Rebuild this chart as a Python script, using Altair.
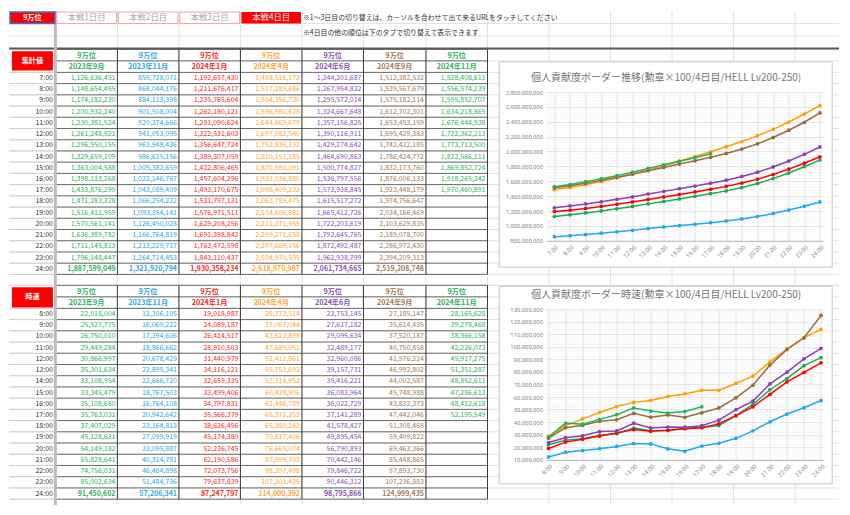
import altair as alt
import pandas as pd

# ---------------- data ----------------
rank = "9万位"
series = ["2023年9月", "2023年11月", "2024年1月", "2024年4月", "2024年6月", "2024年9月", "2024年11月"]
cum_hours = list(range(7, 25))
rate_hours = list(range(8, 25))

cum_2023_09 = [1126636451, 1148654455, 1174182230, 1200932240, 1230381524, 1261248521, 1296550155, 1329659109, 1363004588,
               1398113268, 1433876299, 1471283328, 1516411959, 1570561141, 1636389782, 1711145813, 1796148447, 1887599049]
cum_2023_11 = [855738071, 868044176, 884113398, 901508004, 920374666, 941053095, 963948436, 986615156, 1005382659,
               1022146767, 1043089409, 1066254222, 1093354141, 1126450028, 1166764819, 1213229717, 1264714453, 1321920794]
cum_2024_01 = [1192657430, 1211676417, 1235765604, 1262180121, 1291090624, 1322531603, 1356647724, 1389307059, 1422806465,
               1457604296, 1493170675, 1531797131, 1576971511, 1629208256, 1691398842, 1763472598, 1843110437, 1930358234]
cum_2024_04 = [1488516172, 1517289686, 1554356730, 1596980628, 1644669679, 1697082540, 1752836232, 1810151185, 1870590091,
               1933036880, 1998409233, 2063789475, 2134606881, 2211271955, 2299271658, 2397669156, 2504970595, 2618970987]
cum_2024_06 = [1244201687, 1267954832, 1295572014, 1324667648, 1357156825, 1390116911, 1429274642, 1464690863, 1500774827,
               1536797556, 1573938845, 1615517272, 1665412726, 1722203619, 1792645765, 1872492487, 1962938799, 2061734665]
cum_2024_09 = [1512382532, 1539567679, 1575182114, 1612702301, 1653453159, 1695429383, 1742422185, 1786424772, 1832173760,
               1876006133, 1923448179, 1974756647, 2034166469, 2103629835, 2189078700, 2286972430, 2394209313, 2519208748]
cum_2024_11 = [1528408611, 1556574239, 1595852707, 1634218865, 1676444938, 1722362213, 1773713500, 1822566111, 1869852724,
               1918265342, 1970460891]

rate_2023_09 = [22018004, 25527775, 26750010, 29449284, 30866997, 35301634, 33108954, 33345479, 35108680,
                35763031, 37407029, 45128631, 54149182, 65828641, 74756031, 85002634, 91450602]
rate_2023_11 = [12306105, 16069222, 17394606, 18866662, 20678429, 22895341, 22666720, 18767503, 16764108,
                20942642, 23164813, 27099919, 33095887, 40314791, 46464898, 51484736, 57206341]
rate_2024_01 = [19018987, 24089187, 26414517, 28910503, 31440979, 34116121, 32659335, 33499406, 34797831,
                35566379, 38626456, 45174380, 52236745, 62190586, 72073756, 79637839, 87247797]
rate_2024_04 = [28773514, 37067044, 42623898, 47689051, 52412861, 55753692, 57314953, 60438906, 62446789,
                65372353, 65380242, 70817406, 76665074, 87999703, 98397498, 107301439, 114000392]
rate_2024_06 = [23753145, 27617182, 29095634, 32489177, 32960086, 39157731, 35416221, 36083964, 36022729,
                37141289, 41578427, 49895454, 56790893, 70442146, 79846722, 90446312, 98795866]
rate_2024_09 = [27185147, 35614435, 37520187, 40750858, 41976224, 46992802, 44002587, 45748988, 43832373,
                47442046, 51308468, 59409822, 69463366, 85448865, 97893730, 107236883, 124999435]
rate_2024_11 = [28165628, 39278468, 38366158, 42226073, 45917275, 51351287, 48852611, 47286613, 48412618,
                52195549]

cum_data = [cum_2023_09, cum_2023_11, cum_2024_01, cum_2024_04, cum_2024_06, cum_2024_09, cum_2024_11]
rate_data = [rate_2023_09, rate_2023_11, rate_2024_01, rate_2024_04, rate_2024_06, rate_2024_09, rate_2024_11]

tab_labels = ["本戦1日目", "本戦2日目", "本戦3日目", "本戦4日目"]
note_1 = "※1～3日目の切り替えは、カーソルを合わせて出て来るURLをタッチしてください"
note_2 = "※4日目の他の順位は下のタブで切り替えて表示できます"
label_cum = "集計値"
label_rate = "時速"
title_1 = "個人貢献度ボーダー推移(勲章×100/4日目/HELL Lv200-250)"
title_2 = "個人貢献度ボーダー時速(勲章×100/4日目/HELL Lv200-250)"

# ---------------- styles ----------------
text_colors = ["#2db25c", "#27a9e1", "#ff2424", "#ffa630", "#8c4fb8", "#a47a52", "#2db25c"]
line_colors = ["#1aab4f", "#1eaaf1", "#ff0000", "#ffa000", "#8a3fb8", "#9c6a3c", "#22b35e"]
FONT = "Noto Sans CJK JP"
AXFONT = "Roboto"

# ---------------- layout (reference pixel grid, scaled) ----------------
W, H = 830, 494
KX, KY = W / 850, H / 515


def X(v):
    return round(v * KX, 2)


def Y(v):
    return round(v * KY, 2)


col_edges = [0, 48, 111, 174, 237, 300, 363, 427, 490]
sheet_cols_right = [553, 616, 679, 742, 805]
ROW = 11.7
t1_hdr = [40, 52, 64]
t2_hdr = [286, 298, 310]
t1_edges = t1_hdr[:2] + [64 + k * ROW for k in range(len(cum_hours) + 1)]
t2_edges = t2_hdr[:2] + [310 + k * ROW for k in range(len(rate_hours) + 1)]
t1_bottom = t1_edges[-1]
t2_bottom = t2_edges[-1]

SX = alt.Scale(domain=[0, X(490)], range=[0, X(490)], nice=False, zero=False)
SY = alt.Scale(domain=[0, H], range=[0, H], nice=False, zero=False)
WL = X(490)


def enc_pos(extra2=True):
    return dict(x=alt.X("x:Q", scale=SX, axis=None), y=alt.Y("y:Q", scale=SY, axis=None))


def rules(recs, color, width):
    df = pd.DataFrame(recs)
    return alt.Chart(df).mark_rule(color=color, strokeWidth=width).encode(
        x=alt.X("x:Q", scale=SX, axis=None), x2="x2:Q",
        y=alt.Y("y:Q", scale=SY, axis=None), y2="y2:Q")


def rects(recs, **mk):
    df = pd.DataFrame(recs)
    return alt.Chart(df).mark_rect(**mk).encode(
        x=alt.X("x:Q", scale=SX, axis=None), x2="x2:Q",
        y=alt.Y("y:Q", scale=SY, axis=None), y2="y2:Q",
        color=alt.Color("c:N", scale=None))


def texts(recs, **mk):
    df = pd.DataFrame(recs)
    return alt.Chart(df).mark_text(font=FONT, baseline="middle", **mk).encode(
        x=alt.X("x:Q", scale=SX, axis=None), y=alt.Y("y:Q", scale=SY, axis=None),
        text="t:N", color=alt.Color("c:N", scale=None))


def hline(y, x0, x1):
    return dict(x=X(x0), x2=X(x1), y=Y(y), y2=Y(y))


def vline(x, y0, y1):
    return dict(x=X(x), x2=X(x), y=Y(y0), y2=Y(y1))


layers = []

# light spreadsheet grid
bg_rows = [13, 26] + t1_edges + [t1_bottom + 11.4] + t2_edges
light = [hline(y, 0, 850) for y in bg_rows]
light += [vline(x, 0, 515) for x in col_edges[1:] + sheet_cols_right]
layers.append(rules(light, "#e2e2e2", 1))

# chart panels (white, bordered)
panels = [dict(x=X(502), x2=X(843), y=Y(53), y2=Y(267), c="#ffffff"),
          dict(x=X(502), x2=X(843), y=Y(287), y2=Y(493), c="#ffffff")]
layers.append(rects(panels, stroke="#c4c4c4", strokeWidth=1))

# table grids
dark_h, time_h, dark_v = [], [], []
for edges, bottom in [(t1_edges, t1_bottom), (t2_edges, t2_bottom)]:
    for y in edges:
        dark_h.append(hline(y, 48, 490))
    for y in edges[2:]:
        time_h.append(hline(y, 0, 48))
    for x in col_edges[2:]:
        dark_v.append(vline(x, edges[0], bottom))
layers.append(rules(time_h, "#cfcfcf", 1))
layers.append(rules(dark_h, "#6a6a6a", 1))
layers.append(rules(dark_v, "#3a3a3a", 1))

# frozen pane lines
layers.append(rules([hline(39, 0, 850)], "#5a5a5a", 2))
layers.append(rules([vline(47.5, 0, 515)], "#bdbdbd", 3))

# top tabs
layers.append(rects([dict(x=X(1), x2=X(47), y=Y(1), y2=Y(13), c="#ff0000")], stroke="#3c6fd6", strokeWidth=1.5))
tab_x = [(49, 110), (112, 173), (175, 236)]
layers.append(rects([dict(x=X(a), x2=X(b), y=Y(1), y2=Y(13), c="#ffffff") for a, b in tab_x],
                    stroke="#f3a5a5", strokeWidth=1))
layers.append(rects([dict(x=X(238), x2=X(299), y=Y(1), y2=Y(13), c="#ff0000")]))

# red label boxes
layers.append(rects([dict(x=X(3), x2=X(45), y=Y(42), y2=Y(62), c="#ff0000"),
                     dict(x=X(3), x2=X(45), y=Y(288), y2=Y(309), c="#ff0000")]))

# texts
txt_bold_center, txt_center, txt_right, txt_right_bold, txt_left = [], [], [], [], []
txt_bold_center.append(dict(x=X(24), y=Y(7), t=rank, c="#ffffff"))
for k, lab in enumerate(tab_labels):
    cx = (col_edges[k + 1] + col_edges[k + 2]) / 2
    txt_center.append(dict(x=X(cx), y=Y(7), t=lab, c="#ffffff" if k == 3 else "#a9a9a9"))
txt_left.append(dict(x=X(301), y=Y(7), t=note_1, c="#333333"))
txt_left.append(dict(x=X(301), y=Y(22.5), t=note_2, c="#333333"))

for label, hours, data, hdr, y0 in [(label_cum, cum_hours, cum_data, t1_hdr, 64),
                                     (label_rate, rate_hours, rate_data, t2_hdr, 310)]:
    txt_bold_center.append(dict(x=X(24), y=Y((hdr[0] + hdr[2]) / 2), t=label, c="#ffffff"))
    for i, s in enumerate(series):
        cx = (col_edges[i + 1] + col_edges[i + 2]) / 2
        txt_bold_center.append(dict(x=X(cx), y=Y((hdr[0] + hdr[1]) / 2 + 0.5), t=rank, c=text_colors[i]))
        txt_bold_center.append(dict(x=X(cx), y=Y((hdr[1] + hdr[2]) / 2 + 0.5), t=s, c=text_colors[i]))
    last = len(hours) - 1
    for r, h in enumerate(hours):
        cy = y0 + (r + 0.5) * ROW
        txt_right.append(dict(x=X(45), y=Y(cy), t=f"{h}:00", c="#333333"))
        for i, vals in enumerate(data):
            if r < len(vals):
                rec = dict(x=X(col_edges[i + 2] - 2), y=Y(cy), t=f"{vals[r]:,}", c=text_colors[i])
                (txt_right_bold if r == last else txt_right).append(rec)

layers.append(texts(txt_left, align="left", fontSize=6.9))
layers.append(texts(txt_center, align="center", fontSize=8.3))
layers.append(texts(txt_bold_center, align="center", fontSize=7.2, fontWeight="bold"))
layers.append(texts(txt_right, align="right", fontSize=7.0))
layers.append(texts(txt_right_bold, align="right", fontSize=7.0, fontWeight="bold"))
layers.append(texts([dict(x=X(673), y=Y(70), t=title_1, c="#757575"),
                     dict(x=X(673), y=Y(296), t=title_2, c="#757575")],
                    align="center", fontSize=10))

left = alt.layer(*layers).properties(width=WL, height=H)


# ---------------- line charts ----------------
def line_chart(hours, data, xdom, ydom, ystep, minor_step, w, h):
    recs = []
    for s, vals in zip(series, data):
        for hr, v in zip(hours, vals):
            recs.append(dict(hour=hr, value=v, series=s))
    df = pd.DataFrame(recs)
    yticks = list(range(int(ydom[0]), int(ydom[1]) + 1, int(ystep)))
    minors = [v for v in range(int(ydom[0]), int(ydom[1]) + 1, int(minor_step)) if v not in yticks]
    yaxis = alt.Axis(values=yticks, format=",d", labelFontSize=6, labelColor="#8a8a8a", labelFont=AXFONT,
                     ticks=False, domain=False, gridColor="#dadada", gridWidth=0.8, labelPadding=4, title=None)
    yenc = alt.Y("value:Q", scale=alt.Scale(domain=ydom, nice=False, zero=False), axis=yaxis)
    xenc = alt.X("hour:Q", scale=alt.Scale(domain=xdom, nice=False, zero=False),
                 axis=alt.Axis(values=hours, labelExpr="datum.value + ':00'", labelAngle=315,
                               labelFontSize=6, labelColor="#8a8a8a", labelFont=AXFONT, ticks=False,
                               domain=True, domainColor="#b5b5b5", gridColor="#dadada", gridWidth=0.8,
                               labelPadding=3, title=None))
    minor = alt.Chart(pd.DataFrame({"value": minors})).mark_rule(color="#f0f0f0", strokeWidth=0.7).encode(y=yenc)
    base = alt.Chart(df).encode(
        x=xenc, y=yenc,
        color=alt.Color("series:N", scale=alt.Scale(domain=series, range=line_colors), legend=None))
    ln = base.mark_line(strokeWidth=1.5)
    pt = base.mark_point(filled=True, size=14, opacity=1, shape="circle")
    return alt.layer(minor, ln, pt).properties(width=w, height=h)


c1 = line_chart(cum_hours, cum_data, [6.5, 24.19], [800_000_000, 2_800_000_000], 200_000_000, 40_000_000,
                X(283), Y(155))
c2 = line_chart(rate_hours, rate_data, [7.885, 24.11], [10_000_000, 130_000_000], 10_000_000, 2_000_000,
                X(283), Y(157))

SV = Y(310 - 84 - 155)
spacer = alt.Chart(pd.DataFrame({"a": [0]})).mark_point(opacity=0).encode(
    x=alt.value(0), y=alt.value(0)).properties(width=X(283), height=Y(84) - SV)

right = alt.vconcat(spacer, c1, c2, spacing=SV, bounds="flush")

chart = alt.hconcat(left, right, spacing=X(550) - WL, bounds="flush").properties(
    padding=0, background="#ffffff"
).configure_view(strokeWidth=0)

chart.save("out.html", embed_options={"renderer": "svg", "actions": False})
